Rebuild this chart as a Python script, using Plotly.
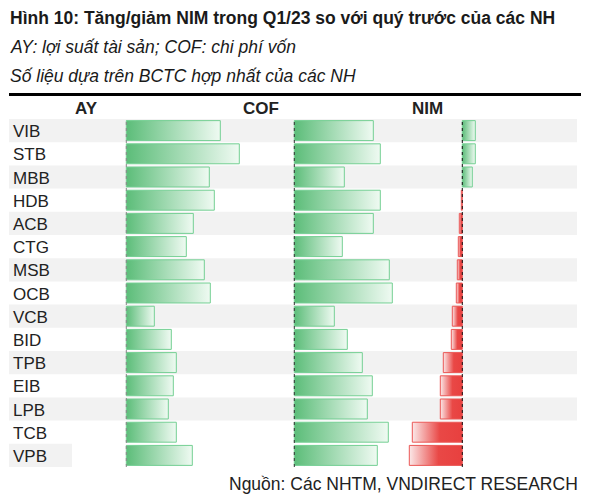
import plotly.graph_objects as go

banks = ["VIB", "STB", "MBB", "HDB", "ACB", "CTG", "MSB", "OCB",
         "VCB", "BID", "TPB", "EIB", "LPB", "TCB", "VPB"]
ay = [0.94, 1.13, 0.83, 0.88, 0.67, 0.60, 0.78, 0.84, 0.28, 0.45, 0.50, 0.47, 0.42, 0.50, 0.66]
cof = [0.79, 0.86, 0.50, 0.86, 0.79, 0.48, 0.95, 0.98, 0.40, 0.53, 0.68, 0.78, 0.73, 0.94, 0.83]
nim = [0.13, 0.13, 0.10, -0.01, -0.03, -0.04, -0.05, -0.06, -0.10, -0.11, -0.19, -0.22, -0.22, -0.50, -0.53]
headers = ["AY", "COF", "NIM"]

title = "Hình 10: Tăng/giảm NIM trong Q1/23 so với quý trước của các NH"
sub1 = "AY: lợi suất tài sản; COF: chi phí vốn"
sub2 = "Số liệu dựa trên BCTC hợp nhất của các NH"
source = "Nguồn: Các NHTM, VNDIRECT RESEARCH"

W, H = 589, 500
L, R, T, B = 9, 12, 119, 33
PW, PH = W - L - R, H - T - B
FONT = "Arial, Liberation Sans, sans-serif"


def px(xp):
    return (xp - L) / PW


def py(yp):
    return (H - B - yp) / PH


GREEN_SCALE = [[0, "#5cbd79"], [1, "#effaf2"]]
RED_SCALE = [[0, "#fbe8e8"], [0.55, "#e94846"], [1, "#e8403f"]]

fig = go.Figure()
h = 0.43
for vals, axis in [(ay, "x"), (cof, "x2"), (nim, "x3")]:
    for i, v in enumerate(vals):
        pos = v >= 0
        fig.add_trace(go.Scatter(
            x=[0, v, v, 0, 0],
            y=[i - h, i - h, i + h, i + h, i - h],
            xaxis=axis, yaxis="y",
            mode="lines", fill="toself",
            line=dict(color="#74cf93" if pos else "#ea5755", width=1),
            fillgradient=dict(type="horizontal",
                              colorscale=GREEN_SCALE if pos else RED_SCALE,
                              start=min(0, v), stop=max(0, v)),
            hoverinfo="skip", showlegend=False,
        ))

shapes = []
for i, b in enumerate(banks):
    if i % 2 == 0:
        x1 = 1 if i < len(banks) - 1 else px(72)
        shapes.append(dict(type="rect", xref="paper", yref="y", x0=0, x1=x1,
                           y0=i - 0.5, y1=i + 0.5, fillcolor="#f2f2f2",
                           line=dict(width=0), layer="below"))
for axis, col in [("x", "#888888"), ("x2", "#333333"), ("x3", "#111111")]:
    shapes.append(dict(type="line", xref=axis, yref="paper", x0=0, x1=0, y0=0, y1=1,
                       line=dict(color=col, width=1, dash="dot"), layer="above"))
shapes.append(dict(type="line", xref="paper", yref="paper", x0=0, x1=px(581),
                   y0=py(94.5), y1=py(94.5), line=dict(color="#000000", width=3)))

ann = []
for i, b in enumerate(banks):
    ann.append(dict(text=b, xref="paper", yref="y", x=px(11), y=i, xanchor="left",
                    yanchor="middle", showarrow=False, yshift=-1,
                    font=dict(family=FONT, size=17, color="#222222")))
for htxt, hx in zip(headers, [86, 261, 427]):
    ann.append(dict(text="<b>" + htxt + "</b>", xref="paper", yref="paper", x=px(hx),
                    y=py(108), xanchor="center", yanchor="middle", showarrow=False,
                    font=dict(family=FONT, size=17, color="#222222")))
ann.append(dict(text="<b>" + title + "</b>", xref="paper", yref="paper", x=px(8), y=py(18),
                xanchor="left", yanchor="middle", showarrow=False,
                font=dict(family=FONT, size=17.5, color="#1a1a1a")))
ann.append(dict(text="<i>" + sub1 + "</i>", xref="paper", yref="paper", x=px(8), y=py(47),
                xanchor="left", yanchor="middle", showarrow=False,
                font=dict(family=FONT, size=17.5, color="#1a1a1a")))
ann.append(dict(text="<i>" + sub2 + "</i>", xref="paper", yref="paper", x=px(8), y=py(76),
                xanchor="left", yanchor="middle", showarrow=False,
                font=dict(family=FONT, size=17.5, color="#1a1a1a")))
ann.append(dict(text=source, xref="paper", yref="paper", x=px(580), y=py(484),
                xanchor="right", yanchor="middle", showarrow=False,
                font=dict(family=FONT, size=17.5, color="#222222")))

zero_px = {"x": 126.3, "x2": 294.3, "x3": 462.3}
scale = 100.0


def xrange(axis):
    z = zero_px[axis] - L
    return [-z / scale, (PW - z) / scale]


fig.update_layout(
    width=W, height=H,
    margin=dict(l=L, r=R, t=T, b=B),
    paper_bgcolor="white", plot_bgcolor="white",
    xaxis=dict(domain=[0, 1], range=xrange("x"), visible=False, fixedrange=True),
    xaxis2=dict(domain=[0, 1], range=xrange("x2"), visible=False, overlaying="x"),
    xaxis3=dict(domain=[0, 1], range=xrange("x3"), visible=False, overlaying="x"),
    yaxis=dict(range=[len(banks) - 0.5, -0.5], visible=False),
    shapes=shapes, annotations=ann,
)

fig.write_html("out.html", config={"displayModeBar": False},
               post_script="document.body.style.margin='0';document.body.style.overflow='hidden';")
